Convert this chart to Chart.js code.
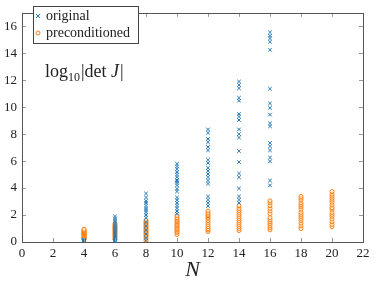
<!DOCTYPE html>
<html>
<head>
<meta charset="utf-8">
<script src="https://cdn.jsdelivr.net/npm/chart.js@4.4.1/dist/chart.umd.min.js"></script>
<style>
  html, body { margin: 0; padding: 0; background: #fff; }
  #wrap { width: 374px; height: 283px; }
</style>
</head>
<body>
<div id="wrap"><canvas id="scatter"></canvas></div>
<script>
// problem sizes on the x axis
const sizes = [4, 6, 8, 10, 12, 14, 16, 18, 20];
const xTicks = [0, 2, 4, 6, 8, 10, 12, 14, 16, 18, 20, 22];
const yTicks = [0, 2, 4, 6, 8, 10, 12, 14, 16];

// log10|det J|, original system
const orig4 = [0.02, 0.03, 0.04, 0.05, 0.06, 0.07, 0.08, 0.09, 0.1, 0.11, 0.12, 0.13, 0.15];
const orig6 = [0.02, 0.05, 0.1, 0.15, 0.3, 0.45, 0.6, 0.75, 0.9, 1.05, 1.2, 1.35, 1.5, 1.6, 1.75, 1.9];
const orig8 = [0.1, 0.3, 0.6, 0.9, 1.2, 1.5, 1.8, 2.0, 2.2, 2.35, 2.5, 2.7, 2.9, 3.05, 3.3, 3.6];
const orig10 = [2.1, 2.3, 2.5, 2.7, 2.9, 3.1, 3.3, 3.75, 3.95, 4.2, 4.4, 4.5, 4.6, 4.8, 5.0, 5.2, 5.4, 5.6, 5.8];
const orig12 = [2.67, 2.9, 3.14, 3.38, 4.33, 4.56, 4.8, 5.04, 5.27, 5.5, 5.86, 6.1, 6.8, 7.04, 7.4, 7.64, 8.1, 8.35];
const orig14 = [2.9, 3.14, 3.38, 3.97, 4.8, 5.08, 5.93, 6.74, 7.75, 8.0, 8.35, 9.05, 9.3, 9.5, 10.48, 10.7, 11.4, 11.65, 11.9];
const orig16 = [4.2, 4.56, 5.98, 6.26, 6.8, 7.1, 7.35, 8.58, 8.8, 9.45, 9.95, 10.28, 11.37, 14.25, 14.85, 15.1, 15.3, 15.55];

// log10|det J|, preconditioned system
const pre4 = [0.22, 0.28, 0.33, 0.38, 0.42, 0.47, 0.52, 0.56, 0.6, 0.64, 0.68, 0.72, 0.76, 0.8, 0.85, 0.9, 0.95];
const pre6 = [0.2, 0.3, 0.4, 0.5, 0.6, 0.68, 0.76, 0.84, 0.92, 1.0, 1.08, 1.16, 1.25, 1.37];
const pre8 = [0.1, 0.25, 0.4, 0.5, 0.6, 0.7, 0.8, 0.9, 1.0, 1.1, 1.2, 1.3, 1.4, 1.5, 1.6];
const pre10 = [0.55, 0.7, 0.8, 0.9, 1.0, 1.1, 1.2, 1.3, 1.4, 1.5, 1.6, 1.7, 1.8, 1.96];
const pre12 = [0.78, 0.9, 1.0, 1.15, 1.3, 1.45, 1.6, 1.75, 1.85, 1.95, 2.05, 2.15, 2.3];
const pre14 = [0.85, 1.0, 1.15, 1.3, 1.45, 1.6, 1.75, 1.9, 2.05, 2.2, 2.35, 2.5, 2.7];
const pre16 = [0.9, 1.05, 1.2, 1.35, 1.5, 1.65, 1.8, 2.1, 2.3, 2.5, 2.7, 2.9, 3.05];
const pre18 = [1.0, 1.2, 1.4, 1.6, 1.75, 1.9, 2.05, 2.2, 2.43, 2.6, 2.75, 2.9, 3.1, 3.25, 3.38];
const pre20 = [1.13, 1.3, 1.5, 1.7, 1.9, 2.05, 2.2, 2.43, 2.55, 2.75, 2.95, 3.1, 3.25, 3.4, 3.55, 3.74];

const origCols = [orig4, orig6, orig8, orig10, orig12, orig14, orig16];
const preCols = [pre4, pre6, pre8, pre10, pre12, pre14, pre16, pre18, pre20];

function toPoints(cols) {
  const pts = [];
  cols.forEach((vals, i) => vals.forEach(v => pts.push({ x: sizes[i], y: v })));
  return pts;
}

const blue = '#1f77b4';
const orange = '#ff7f0e';
const serif = '"Liberation Serif", "DejaVu Serif", serif';

// frame with inward ticks on all four sides, plus legend and label
const framePlugin = {
  id: 'frame',
  afterDraw(chart) {
    const { ctx, chartArea: a, scales } = chart;
    ctx.save();
    ctx.strokeStyle = '#999';
    ctx.lineWidth = 1;
    ctx.beginPath();
    xTicks.forEach(t => {
      const px = Math.round(scales.x.getPixelForValue(t)) + 0.5;
      ctx.moveTo(px, a.bottom); ctx.lineTo(px, a.bottom - 4);
      ctx.moveTo(px, a.top); ctx.lineTo(px, a.top + 4);
    });
    yTicks.forEach(t => {
      const py = Math.round(scales.y.getPixelForValue(t)) + 0.5;
      ctx.moveTo(a.left, py); ctx.lineTo(a.left + 4, py);
      ctx.moveTo(a.right, py); ctx.lineTo(a.right - 4, py);
    });
    ctx.stroke();
    ctx.strokeStyle = '#555';
    ctx.strokeRect(Math.round(a.left) + 0.5, Math.round(a.top) + 0.5,
      Math.round(a.right - a.left), Math.round(a.bottom - a.top));

    // legend box
    const lx = 33, ly = 6, lw = 105, lh = 37;
    ctx.fillStyle = '#fff';
    ctx.fillRect(lx, ly, lw, lh);
    ctx.strokeStyle = '#444';
    ctx.strokeRect(lx + 0.5, ly + 0.5, lw, lh);
    ctx.lineWidth = 1;
    ctx.strokeStyle = blue;
    ctx.beginPath();
    ctx.moveTo(36, 14); ctx.lineTo(40, 18);
    ctx.moveTo(40, 14); ctx.lineTo(36, 18);
    ctx.stroke();
    ctx.strokeStyle = orange;
    ctx.beginPath();
    ctx.arc(38, 33, 2, 0, Math.PI * 2);
    ctx.stroke();
    ctx.fillStyle = '#222';
    ctx.font = '14px ' + serif;
    ctx.textBaseline = 'middle';
    ctx.fillText('original', 46, 16);
    ctx.fillText('preconditioned', 46, 33);

    // quantity label
    ctx.textBaseline = 'alphabetic';
    let x = 45;
    const base = 77;
    ctx.font = '18px ' + serif;
    ctx.fillText('log', x, base); x += ctx.measureText('log').width;
    ctx.font = '12px ' + serif;
    ctx.fillText('10', x, base + 4); x += ctx.measureText('10').width + 1;
    ctx.font = '18px ' + serif;
    ctx.fillText('|det ', x, base); x += ctx.measureText('|det ').width;
    ctx.font = 'italic 18px ' + serif;
    ctx.fillText('J', x, base); x += ctx.measureText('J').width + 1;
    ctx.font = '18px ' + serif;
    ctx.fillText('|', x, base);
    ctx.restore();
  }
};

new Chart(document.getElementById('scatter').getContext('2d'), {
  type: 'scatter',
  data: {
    datasets: [
      {
        label: 'original',
        data: toPoints(origCols),
        pointStyle: 'crossRot',
        pointRadius: 2.5,
        pointBorderWidth: 1,
        borderColor: blue,
        backgroundColor: blue
      },
      {
        label: 'preconditioned',
        data: toPoints(preCols),
        pointStyle: 'circle',
        pointRadius: 2,
        pointBorderWidth: 1,
        borderColor: orange,
        backgroundColor: 'rgba(255,255,255,0.6)'
      }
    ]
  },
  plugins: [framePlugin],
  options: {
    responsive: true,
    maintainAspectRatio: false,
    animation: false,
    layout: { padding: { top: 1, right: 11, left: 0, bottom: 0 } },
    plugins: {
      legend: { display: false },
      tooltip: { enabled: false }
    },
    scales: {
      x: {
        type: 'linear',
        min: 0,
        max: 22,
        afterBuildTicks: s => { s.ticks = xTicks.map(v => ({ value: v })); },
        afterFit: s => { s.height = 41; },
        grid: { display: false, drawTicks: false },
        border: { display: false },
        ticks: { color: '#222', padding: 4, font: { family: serif, size: 13 }, maxRotation: 0 },
        title: {
          display: true,
          text: 'N',
          color: '#222',
          padding: { top: 0, bottom: 0 },
          font: { family: serif, size: 22, style: 'italic' }
        }
      },
      y: {
        type: 'linear',
        min: 0,
        max: 17,
        afterBuildTicks: s => { s.ticks = yTicks.map(v => ({ value: v })); },
        afterFit: s => { s.width = 22; },
        grid: { display: false, drawTicks: false },
        border: { display: false },
        ticks: { color: '#222', padding: 5, font: { family: serif, size: 13 } }
      }
    }
  }
});
</script>
</body>
</html>
